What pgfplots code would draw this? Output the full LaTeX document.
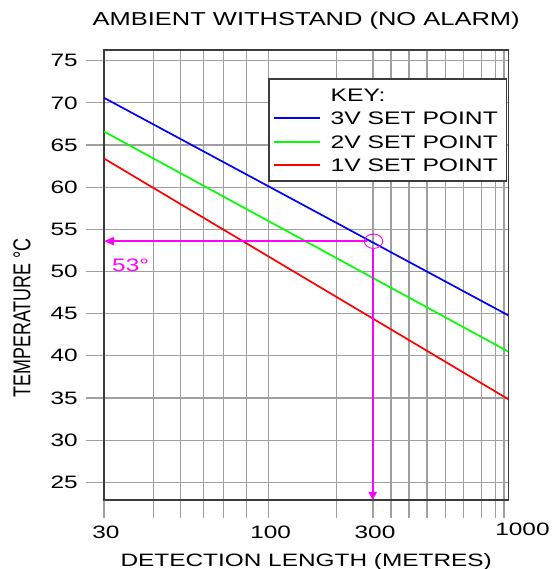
\documentclass[border=0pt]{standalone}
\usepackage{fontspec}
\setmainfont{Liberation Sans}[FakeStretch=1.36]
\newfontfamily\plainsans{Liberation Sans}
\usepackage{pgfplots}
\pgfplotsset{compat=1.18}
\usetikzlibrary{arrows.meta}

\definecolor{gridgray}{RGB}{160,160,160}
\definecolor{keygreen}{RGB}{0,255,0}
\definecolor{keyblue}{RGB}{0,0,255}
\definecolor{keyred}{RGB}{255,0,0}
\definecolor{annot}{RGB}{255,0,255}
\definecolor{frame}{RGB}{60,60,60}

\begin{document}
\begin{tikzpicture}
\begin{axis}[
  name=ax,
  scale only axis,
  width=404.3bp, height=450bp,
  xmin=104, xmax=508.3,
  ymin=22.9, ymax=76.27,
  clip=false,
  font=\fontsize{18}{21}\selectfont,
  axis line style={frame, line width=1.2bp},
  grid=major,
  major grid style={gridgray, line width=1.1bp},
  tick align=outside,
  tick pos=left,
  major tick length=18bp,
  xtick style={gridgray, line width=1.1bp},
  ytick style={gridgray, line width=1.1bp},
  % the reference grid is not a true log grid: positions
  xtick={104,153.7,180.7,203.3,223.7,246.7,268.7,336.7,373,391,409,427,445.3,463.3,481.7,495.3,504},
  xticklabels={30,,,,,,100,,300},
  ytick={25,30,...,75},
  /pgf/number format/assume math mode=true,
  xticklabel style={anchor=base, inner sep=0pt, yshift=-20bp, xshift=2bp},
  yticklabel style={inner sep=0pt, xshift=-8bp},
  title={AMBIENT WITHSTAND (NO ALARM)},
  title style={at={(axis description cs:0.5,1)}, anchor=base, yshift=19bp, inner sep=0pt,
    font=\fontsize{18.8}{21}\selectfont},
  xlabel={DETECTION LENGTH (METRES)},
  xlabel style={at={(axis description cs:0.5,0)}, anchor=base, yshift=-66bp, inner sep=0pt},
  ylabel={\scalebox{1}[1.36]{\plainsans\fontsize{18}{21}\selectfont TEMPERATURE °C}},
  ylabel style={at={(axis description cs:-0.203,0.405)}, anchor=center, inner sep=0pt},
  legend style={at={(axis cs:268.3,72.91)}, anchor=north west, draw=frame,
    line width=1.2bp, inner xsep=4.5bp, inner ysep=4bp, column sep=5bp,
    nodes={inner xsep=4.5bp, inner ysep=5.25bp, text height=13bp, text depth=0bp,
      font=\fontsize{18.2}{21}\selectfont}},
  legend cell align=left,
  legend image code/.code={\draw[#1, line width=1.8bp] (0bp,0bp) -- (46bp,0bp);},
]
\addlegendimage{empty legend}
\addlegendentry{KEY:}

\addplot[keyblue, line width=1.7bp] coordinates {(104,70.6) (508.3,44.8)};
\addlegendentry{3V SET POINT}
\addplot[keygreen, line width=1.7bp] coordinates {(104,66.6) (508.3,40.5)};
\addlegendentry{2V SET POINT}
\addplot[keyred, line width=1.7bp] coordinates {(104,63.4) (508.3,34.85)};
\addlegendentry{1V SET POINT}

% reading at 300 m
\addplot[annot, line width=2bp, -{Triangle[length=10bp,width=8bp]}, forget plot]
  coordinates {(366.7,53.6) (104,53.6)};
\addplot[annot, line width=2bp, -{Triangle[length=8bp,width=8bp]}, forget plot]
  coordinates {(372.7,52.78) (372.7,22.9)};
\addplot[annot, only marks, mark=o, mark size=7.2bp,
  mark options={xscale=1.28, line width=0.9bp}, forget plot]
  coordinates {(373.5,53.59)};

\node[annot, anchor=base west, inner sep=0pt] at (axis cs:112,50) {53°};
\node[anchor=base, inner sep=0pt, yshift=-35bp] at (axis cs:522.5,22.9) {1000};
\end{axis}
\pgfresetboundingbox
\path (ax.south west) ++(-104bp,-69bp) rectangle ++(552bp,569bp);
\end{tikzpicture}
\end{document}
